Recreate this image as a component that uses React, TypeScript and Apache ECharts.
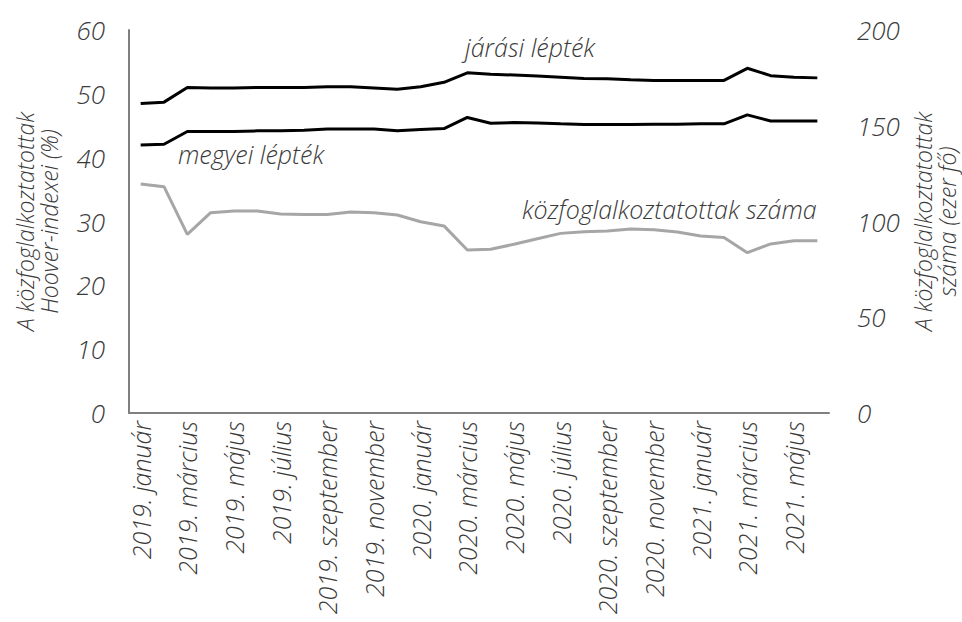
import React, { useEffect, useRef } from "react";
import * as echarts from "echarts";

const months = ["január", "február", "március", "április", "május", "június", "július", "augusztus", "szeptember", "október", "november", "december"];
const categories: string[] = [];
for (const y of [2019, 2020, 2021]) {
  for (const m of months) {
    if (categories.length < 30) categories.push(`${y}. ${m}`);
  }
}

const jarasi = [48.5, 48.7, 51.0, 50.9, 50.9, 51.0, 51.0, 51.0, 51.1, 51.1, 50.9, 50.7, 51.1, 51.8, 53.3, 53.05, 52.95, 52.8, 52.6, 52.4, 52.35, 52.2, 52.1, 52.1, 52.1, 52.1, 54.0, 52.85, 52.6, 52.5];
const megyei = [42.0, 42.1, 44.1, 44.1, 44.1, 44.2, 44.2, 44.3, 44.5, 44.5, 44.5, 44.2, 44.4, 44.55, 46.3, 45.4, 45.5, 45.45, 45.3, 45.2, 45.2, 45.2, 45.25, 45.25, 45.3, 45.3, 46.7, 45.75, 45.75, 45.75];
const kozfog = [119.6, 118.2, 93.3, 104.6, 105.5, 105.5, 103.9, 103.6, 103.6, 105.0, 104.6, 103.4, 99.9, 97.7, 85.1, 85.5, 88.1, 91.0, 93.8, 94.7, 95.0, 96.1, 95.7, 94.5, 92.4, 91.7, 83.7, 88.3, 90.0, 90.0];

const leftTicks = [0, 10, 20, 30, 40, 50, 60];
const rightTicks = [0, 50, 100, 150, 200];

const FONT = "'Open Sans', 'Noto Sans', sans-serif";
const TXT = "#3a3a3a";

export default function App() {
  const ref = useRef<HTMLDivElement>(null);
  useEffect(() => {
    if (!ref.current) return;
    const chart = echarts.init(ref.current, undefined, { renderer: "svg" });
    const labelStyle = { fontFamily: FONT, fontStyle: "italic" as const, fontWeight: 300 as any, color: TXT };
    const annFont = `italic 300 25px ${FONT}`;
    chart.setOption({
      animation: false,
      grid: { left: 129, right: 133, top: 30, bottom: 209, containLabel: false, outerBoundsMode: "none" },
      xAxis: {
        type: "category",
        data: categories,
        boundaryGap: true,
        axisLine: { show: true, lineStyle: { color: "#7f7f7f", width: 2 } },
        axisTick: { show: false },
        axisLabel: { ...labelStyle, fontSize: 25, rotate: 90, interval: 1, margin: 8 },
      },
      yAxis: [
        {
          type: "value",
          min: leftTicks[0],
          max: leftTicks[leftTicks.length - 1],
          interval: 10,
          splitLine: { show: false },
          axisLine: { show: true, lineStyle: { color: "#7f7f7f", width: 2 } },
          axisTick: { show: false },
          axisLabel: { ...labelStyle, fontSize: 26, margin: 24 },
          name: "A közfoglalkoztatottak\nHoover-indexei (%)",
          nameLocation: "middle",
          nameGap: 68,
          nameTextStyle: { ...labelStyle, fontSize: 23, lineHeight: 24 },
        },
        {
          type: "value",
          min: rightTicks[0],
          max: rightTicks[rightTicks.length - 1],
          interval: 50,
          splitLine: { show: false },
          axisLine: { show: false },
          axisTick: { show: false },
          axisLabel: { ...labelStyle, fontSize: 26, margin: 28 },
          name: "A közfoglalkoztatottak\nszáma (ezer fő)",
          nameLocation: "middle",
          nameGap: 80,
          nameRotate: 90,
          nameTextStyle: { ...labelStyle, fontSize: 23, lineHeight: 24 },
        },
      ],
      series: [
        { name: "járási lépték", type: "line", data: jarasi, yAxisIndex: 0, symbol: "none", lineStyle: { color: "#000", width: 3 } },
        { name: "megyei lépték", type: "line", data: megyei, yAxisIndex: 0, symbol: "none", lineStyle: { color: "#000", width: 3 } },
        { name: "közfoglalkoztatottak száma", type: "line", data: kozfog, yAxisIndex: 1, symbol: "none", lineStyle: { color: "#a6a6a6", width: 3 } },
      ],
      graphic: [
        { type: "text", x: 465, y: 47, style: { text: "járási lépték", font: annFont, fill: TXT, verticalAlign: "middle" } },
        { type: "text", x: 178, y: 154, style: { text: "megyei lépték", font: annFont, fill: TXT, verticalAlign: "middle" } },
        { type: "text", x: 522, y: 209, style: { text: "közfoglalkoztatottak száma", font: annFont, fill: TXT, verticalAlign: "middle" } },
      ],
    });
    return () => chart.dispose();
  }, []);
  return <div ref={ref} style={{ width: 962, height: 622, position: "absolute", left: 0, top: 0 }} />;
}
